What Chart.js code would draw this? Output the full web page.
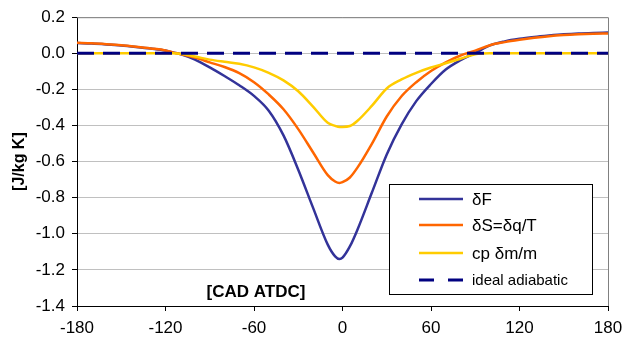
<!DOCTYPE html>
<html>
<head>
<meta charset="utf-8">
<script src="https://cdn.jsdelivr.net/npm/chart.js@4.4.1/dist/chart.umd.min.js"></script>
<style>
  body { margin: 0; background: #fff; }
</style>
</head>
<body>
<canvas id="chart" width="622" height="340"></canvas>
<script>
// crank angle [CAD ATDC]
const crankAngle = [-180, -170, -160, -150, -140, -130, -120, -115, -110, -100, -90, -80, -70, -60, -50, -40, -30, -20, -10, -5, -2, 0, 5,
    10, 20, 30, 40, 50, 60, 70, 80, 90, 100, 110, 120, 130, 140, 150, 160, 170, 180];

// values, J/kg K
const deltaF = [0.057, 0.054, 0.049, 0.043, 0.035, 0.026, 0.015, 0.005, -0.004, -0.035, -0.078, -0.126, -0.177, -0.236, -0.318, -0.455, -0.645, -0.855, -1.06, -1.125, -1.14, -1.132, -1.07,
    -0.98, -0.77, -0.56, -0.395, -0.265, -0.17, -0.09, -0.038, 0.002, 0.044, 0.066, 0.08, 0.09, 0.098, 0.105, 0.11, 0.113, 0.115];
const deltaS = [0.058, 0.055, 0.05, 0.044, 0.036, 0.027, 0.016, 0.005, -0.004, -0.024, -0.05, -0.076, -0.11, -0.16, -0.228, -0.31, -0.42, -0.548, -0.675, -0.71, -0.718, -0.714, -0.688,
    -0.635, -0.5, -0.35, -0.238, -0.16, -0.098, -0.05, -0.012, 0.015, 0.045, 0.062, 0.075, 0.086, 0.095, 0.101, 0.105, 0.108, 0.11];
const cpDm = [0, 0, 0, 0, 0, 0, 0, 0, -0.003, -0.018, -0.035, -0.047, -0.058, -0.078, -0.108, -0.15, -0.21, -0.295, -0.385, -0.402, -0.408, -0.408, -0.403,
    -0.375, -0.29, -0.195, -0.145, -0.108, -0.079, -0.055, -0.03, -0.005, 0, 0, 0, 0, 0, 0, 0, 0, 0];
const idealAngle = [-180, 180];
const idealValue = [0, 0];

const xTicks = [-180, -120, -60, 0, 60, 120, 180];
const yTicks = [0.2, 0, -0.2, -0.4, -0.6, -0.8, -1.0, -1.2, -1.4];

const seriesLabels = ['\u03B4F', '\u03B4S=\u03B4q/T', 'cp \u03B4m/m', 'ideal adiabatic'];

const toPoints = (xs, ys) => xs.map((x, i) => ({ x: x, y: ys[i] }));

const FONT = '"Liberation Sans", Arial, sans-serif';

// grey frame on top/right, x title inside the plot, and the boxed legend
const plotExtras = {
    id: 'plotExtras',
    afterDatasetsDraw(chart) {
        const ctx = chart.ctx;
        const a = chart.chartArea;
        ctx.save();

        ctx.strokeStyle = '#808080';
        ctx.lineWidth = 1;
        ctx.beginPath();
        ctx.moveTo(a.left, a.top + 0.5);
        ctx.lineTo(a.right + 0.5, a.top + 0.5);
        ctx.lineTo(a.right + 0.5, a.bottom);
        ctx.stroke();

        ctx.fillStyle = '#000';
        ctx.font = 'bold 17px ' + FONT;
        ctx.textAlign = 'center';
        ctx.textBaseline = 'middle';
        ctx.fillText('[CAD ATDC]', 256, 292);

        // legend box
        const bx = 389.5, by = 184.5, bw = 203, bh = 110;
        ctx.fillStyle = '#fff';
        ctx.fillRect(bx, by, bw, bh);
        ctx.strokeStyle = '#000';
        ctx.strokeRect(bx, by, bw, bh);

        const rows = [199, 225, 253, 280];
        chart.data.datasets.forEach((ds, i) => {
            const y = rows[i];
            ctx.beginPath();
            ctx.strokeStyle = ds.borderColor;
            ctx.lineWidth = ds.borderWidth;
            ctx.setLineDash(ds.borderDash ? [15, 14] : []);
            ctx.moveTo(419, y);
            ctx.lineTo(463, y);
            ctx.stroke();
            ctx.setLineDash([]);
            ctx.fillStyle = '#000';
            ctx.textAlign = 'left';
            ctx.font = (i === 3 ? '15px ' : '17px ') + FONT;
            ctx.fillText(ds.label, 472, y + 1);
        });

        ctx.restore();
    }
};

const ctx = document.getElementById('chart').getContext('2d');
const chart = new Chart(ctx, {
    type: 'line',
    data: {
        datasets: [
            { label: seriesLabels[0], data: toPoints(crankAngle, deltaF), borderColor: '#333399', borderWidth: 2.5, order: 4 },
            { label: seriesLabels[1], data: toPoints(crankAngle, deltaS), borderColor: '#FF6600', borderWidth: 2.5, order: 3 },
            { label: seriesLabels[2], data: toPoints(crankAngle, cpDm), borderColor: '#FFCC00', borderWidth: 2.5, order: 2 },
            { label: seriesLabels[3], data: toPoints(idealAngle, idealValue), borderColor: '#000080', borderWidth: 3, borderDash: [17, 9], order: 1 }
        ]
    },
    options: {
        responsive: false,
        animation: false,
        layout: { padding: { top: 17, right: 0, left: 0, bottom: 0 } },
        elements: {
            point: { radius: 0 },
            line: { cubicInterpolationMode: 'monotone', fill: false }
        },
        plugins: {
            legend: { display: false },
            tooltip: { enabled: false }
        },
        scales: {
            x: {
                type: 'linear',
                min: -180,
                max: 180,
                afterBuildTicks: axis => { axis.ticks = xTicks.map(v => ({ value: v })); },
                afterFit: axis => { axis.height = 34; axis.paddingRight = 14; axis.paddingLeft = 0; },
                grid: { color: 'transparent', tickColor: '#000', tickLength: 5, drawTicks: true },
                border: { color: '#000', width: 1 },
                ticks: { color: '#000', padding: 7, maxRotation: 0, font: { family: FONT, size: 17 } }
            },
            y: {
                min: -1.4,
                max: 0.2,
                afterBuildTicks: axis => { axis.ticks = yTicks.map(v => ({ value: v })); },
                afterFit: axis => { axis.width = 77; },
                grid: { color: '#c0c0c0', tickColor: '#000', tickLength: 5 },
                border: { color: '#000', width: 1 },
                ticks: {
                    color: '#000',
                    padding: 7,
                    font: { family: FONT, size: 17 },
                    callback: v => (Math.abs(v) < 1e-9 ? 0 : v).toFixed(1)
                },
                title: {
                    display: true,
                    text: '[J/kg K]',
                    color: '#000',
                    padding: { top: 10, bottom: 0 },
                    font: { family: FONT, size: 16, weight: 'bold' }
                }
            }
        }
    },
    plugins: [plotExtras]
});
</script>
</body>
</html>
